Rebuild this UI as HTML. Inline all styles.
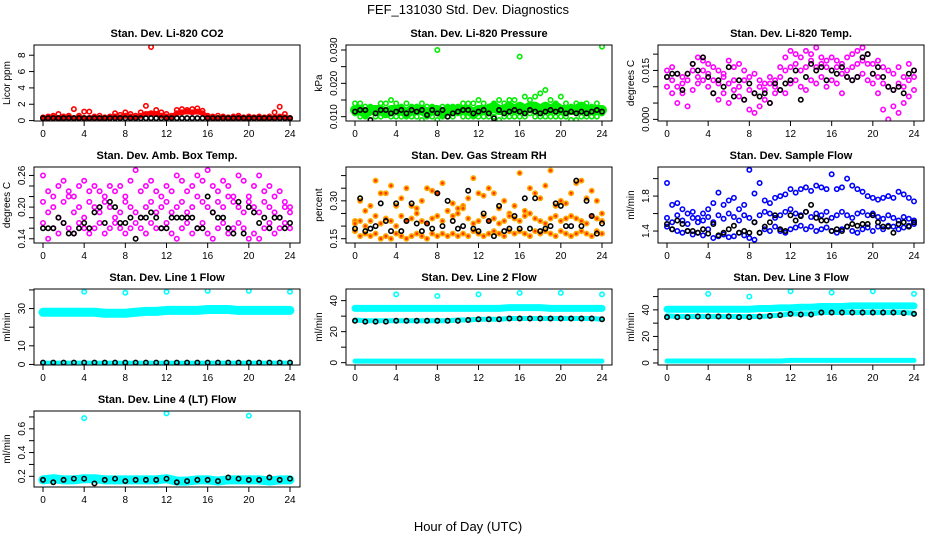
<!DOCTYPE html>
<html><head><meta charset="utf-8"><style>
html,body{margin:0;padding:0;background:#fff;}
svg{display:block;font-family:"Liberation Sans",sans-serif;}
</style></head><body>
<svg id="chart" width="936" height="540" viewBox="0 0 936 540" xmlns="http://www.w3.org/2000/svg">
<rect x="0" y="0" width="936" height="540" fill="#fff"/>
<text x="468" y="14" text-anchor="middle" font-size="13">FEF_131030  Std. Dev. Diagnostics</text>
<text x="468" y="531" text-anchor="middle" font-size="13">Hour of Day (UTC)</text>
</svg>
<script>
// ---- data (half-hourly: 49 values; hourly: 25 values) ----
const xTicks=[0,4,8,12,16,20,24];
const outHours=[4,8,12,16,20,24];
// P1 CO2
const co2Red1=[0.4,0.5,0.6,0.8,0.5,0.6,1.4,0.6,1.1,1.1,0.5,0.6,0.4,0.5,0.9,0.7,1.0,0.8,0.6,1.0,1.8,9.0,1.3,1.0,0.8,0.6,1.3,1.4,1.3,1.4,1.5,1.2,0.6,0.5,0.6,0.5,0.4,0.5,0.6,0.4,0.5,0.4,0.5,0.4,0.5,1.0,1.7,0.8,0.3];
const co2Red2=[0.3,0.3,0.4,0.3,0.3,0.4,0.3,0.4,0.3,0.3,0.4,0.3,0.3,0.4,0.5,0.4,0.6,0.5,0.4,0.6,0.8,0.9,0.8,0.6,0.5,0.4,0.9,1.0,1.1,1.0,1.1,0.9,0.4,0.3,0.3,0.4,0.3,0.3,0.4,0.3,0.3,0.4,0.3,0.3,0.4,0.3,0.5,0.4,0.3];
const co2Black=[0.3,0.3,0.3,0.3,0.3,0.3,0.3,0.3,0.3,0.3,0.3,0.3,0.3,0.3,0.3,0.3,0.3,0.3,0.3,0.3,0.3,0.3,0.3,0.3,0.3,0.3,0.3,0.3,0.3,0.3,0.3,0.3,0.3,0.3,0.3,0.3,0.3,0.3,0.3,0.3,0.3,0.3,0.3,0.3,0.3,0.3,0.3,0.3,0.3];
// P2 pressure
const presG1=[0.014,0.014,0.013,0.013,0.012,0.014,0.014,0.015,0.014,0.013,0.014,0.013,0.013,0.014,0.013,0.013,0.030,0.013,0.013,0.013,0.013,0.014,0.014,0.014,0.015,0.014,0.013,0.014,0.015,0.014,0.015,0.015,0.028,0.016,0.015,0.016,0.017,0.018,0.015,0.014,0.016,0.014,0.013,0.014,0.013,0.014,0.013,0.014,0.031];
const presG2=[0.012,0.012,0.011,0.012,0.012,0.012,0.011,0.012,0.012,0.012,0.011,0.012,0.012,0.012,0.011,0.012,0.012,0.011,0.012,0.012,0.012,0.012,0.012,0.011,0.012,0.012,0.012,0.013,0.012,0.012,0.013,0.012,0.013,0.012,0.013,0.013,0.012,0.013,0.012,0.013,0.012,0.012,0.012,0.012,0.013,0.012,0.012,0.012,0.012];
const presG3=[0.011,0.010,0.010,0.009,0.010,0.010,0.011,0.010,0.010,0.010,0.010,0.010,0.010,0.009,0.010,0.010,0.009,0.010,0.010,0.010,0.011,0.010,0.010,0.010,0.010,0.010,0.010,0.010,0.009,0.010,0.010,0.010,0.010,0.010,0.011,0.010,0.010,0.010,0.010,0.010,0.010,0.010,0.009,0.009,0.010,0.010,0.010,0.010,0.011];
const presBlack=[0.0115,0.012,0.012,0.009,0.011,0.012,0.012,0.011,0.0115,0.012,0.011,0.012,0.0115,0.012,0.0105,0.012,0.011,0.012,0.010,0.011,0.0115,0.012,0.012,0.011,0.0115,0.012,0.011,0.0095,0.012,0.011,0.0115,0.012,0.0115,0.011,0.012,0.0115,0.011,0.0115,0.012,0.0115,0.012,0.011,0.0115,0.011,0.0115,0.011,0.0115,0.012,0.0115];
// P3 Li-820 temp
const tempM1=[.015,.016,.014,.013,.012,.017,.019,.018,.017,.016,.015,.014,.018,.016,.017,.015,.013,.014,.012,.011,.013,.012,.016,.019,.021,.020,.019,.021,.020,.022,.019,.018,.019,.018,.017,.019,.020,.021,.022,.020,.017,.018,.016,.015,.014,.016,.013,.017,.015];
const tempM2=[.010,.008,.005,.008,.004,.009,.011,.012,.010,.008,.006,.008,.005,.009,.007,.006,.003,.002,.004,.006,.005,.008,.009,.008,.011,.012,.010,.009,.012,.011,.013,.010,.012,.011,.008,.013,.012,.013,.014,.012,.011,.008,.003,.000,.004,.002,.005,.007,.009];
const tempM3=[.013,.012,.010,.011,.014,.015,.013,.015,.014,.012,.011,.013,.011,.012,.010,.012,.009,.008,.010,.009,.011,.010,.013,.015,.016,.017,.015,.016,.018,.016,.017,.016,.015,.016,.014,.015,.016,.017,.018,.017,.014,.013,.011,.010,.009,.011,.010,.012,.013];
const tempBlack=[.013,.014,.014,.009,.014,.017,.015,.019,.013,.008,.012,.010,.016,.007,.012,.006,.011,.008,.007,.008,.005,.011,.009,.011,.012,.015,.006,.013,.017,.015,.016,.012,.015,.014,.016,.013,.012,.013,.019,.020,.014,.016,.013,.010,.009,.010,.008,.014,.015];
// P4 amb box temp
const boxM1=[.26,.23,.22,.24,.25,.23,.22,.24,.25,.23,.24,.23,.22,.24,.23,.24,.22,.25,.27,.23,.24,.25,.23,.22,.24,.23,.26,.25,.23,.24,.26,.25,.27,.24,.23,.25,.24,.22,.26,.25,.22,.24,.26,.23,.24,.22,.23,.21,.20];
const boxM2=[.17,.14,.16,.15,.17,.16,.15,.17,.16,.15,.16,.17,.15,.16,.17,.16,.15,.16,.17,.16,.15,.17,.16,.16,.17,.15,.14,.16,.17,.15,.16,.17,.15,.14,.16,.17,.15,.16,.17,.16,.14,.15,.14,.16,.17,.15,.16,.17,.16];
const boxM3=[.21,.19,.20,.18,.21,.22,.19,.20,.18,.21,.20,.19,.21,.20,.18,.19,.21,.20,.19,.18,.20,.21,.19,.20,.21,.19,.20,.21,.19,.20,.22,.21,.20,.19,.21,.20,.22,.21,.20,.19,.21,.20,.19,.21,.20,.19,.18,.20,.19];
const boxBlack=[.16,.16,.16,.18,.17,.15,.15,.16,.17,.16,.19,.20,.17,.21,.20,.17,.17,.18,.14,.18,.18,.19,.18,.16,.16,.18,.18,.18,.18,.18,.16,.16,.22,.19,.18,.18,.16,.15,.21,.15,.20,.19,.17,.18,.16,.18,.18,.16,.17];
// P5 gas stream RH
const rhO1=[.22,.30,.26,.28,.38,.33,.33,.36,.28,.31,.35,.28,.27,.30,.35,.34,.33,.37,.26,.29,.27,.28,.31,.39,.33,.32,.35,.33,.27,.30,.25,.28,.41,.26,.35,.33,.31,.36,.42,.28,.30,.29,.33,.37,.38,.31,.34,.30,.25];
const rhO2=[.18,.16,.17,.16,.17,.15,.16,.15,.17,.16,.15,.16,.17,.16,.15,.17,.16,.17,.16,.17,.16,.17,.16,.18,.17,.16,.17,.18,.17,.16,.18,.17,.18,.17,.16,.18,.17,.18,.17,.16,.18,.17,.16,.17,.18,.17,.16,.18,.17];
const rhO3=[.21,.22,.20,.22,.24,.21,.23,.22,.20,.24,.22,.23,.25,.22,.21,.23,.24,.22,.26,.24,.25,.27,.23,.21,.22,.24,.22,.23,.21,.22,.24,.23,.22,.24,.25,.23,.22,.21,.23,.24,.22,.23,.24,.23,.22,.21,.24,.23,.22];
const rhBlack=[.19,.31,.18,.19,.20,.29,.22,.18,.29,.18,.22,.29,.21,.18,.21,.19,.33,.20,.30,.22,.19,.20,.34,.19,.18,.25,.22,.16,.28,.18,.19,.24,.19,.31,.19,.31,.18,.19,.20,.29,.28,.20,.20,.38,.20,.30,.24,.17,.21];
// P6 sample flow
const sfB1=[1.95,1.70,1.72,1.65,1.60,1.62,1.55,1.60,1.65,1.72,1.84,1.70,1.75,1.78,1.65,1.70,2.10,1.83,1.95,1.75,1.72,1.78,1.80,1.82,1.88,1.84,1.88,1.90,1.86,1.92,1.90,1.88,2.05,1.88,1.90,2.00,1.92,1.88,1.85,1.80,1.78,1.76,1.78,1.80,1.78,1.85,1.82,1.78,1.74];
const sfB2=[1.45,1.42,1.40,1.38,1.40,1.36,1.38,1.35,1.42,1.32,1.34,1.36,1.33,1.34,1.38,1.35,1.32,1.30,1.38,1.42,1.40,1.45,1.40,1.38,1.42,1.44,1.46,1.42,1.45,1.40,1.42,1.44,1.40,1.38,1.42,1.45,1.40,1.38,1.42,1.44,1.40,1.45,1.42,1.46,1.45,1.42,1.44,1.46,1.48];
const sfB3=[1.55,1.50,1.58,1.52,1.48,1.55,1.50,1.52,1.56,1.50,1.58,1.54,1.60,1.56,1.52,1.58,1.55,1.50,1.58,1.62,1.60,1.55,1.58,1.62,1.65,1.60,1.58,1.62,1.56,1.60,1.58,1.62,1.55,1.58,1.62,1.58,1.55,1.60,1.62,1.58,1.60,1.56,1.54,1.58,1.55,1.52,1.56,1.54,1.52];
const sfBlack=[1.48,1.42,1.52,1.48,1.40,1.40,1.38,1.42,1.37,1.48,1.35,1.38,1.42,1.46,1.38,1.40,1.38,1.50,1.38,1.45,1.50,1.58,1.42,1.40,1.58,1.52,1.57,1.62,1.70,1.55,1.52,1.52,1.40,1.42,1.40,1.45,1.48,1.46,1.48,1.48,1.58,1.50,1.45,1.45,1.38,1.48,1.50,1.45,1.50];
// P7 line 1 (hourly)
const l1Band=[28,28,28,28,28,28,27.5,27.5,27.5,28,28.5,28.5,29,29,29,29,29.5,29.5,29.5,29,29,29,29,29,29];
const l1Low=[1,1,1,1,1,1,1,1,1,1,1,1,1,1,1,1,1,1,1,1,1,1,1,1,1];
const l1Black=[1,1,1,1,1,1,1,1,1,1,1,1,1,1,1,1,1,1,1,1,1,1,1,1,1];
const l1Out=[39,38.5,39,39.5,39.5,39];
// P8 line 2
const l2Band=[35,35,35,35,35,35,35,35,35,35,35,35,35,35,35,35.5,35.5,35.5,35.5,35,35,35,35,35,35];
const l2Mid=[27.5,27,27,27,27,27,27,27,27,27,27.5,27.5,28,28,28,28.5,28.5,28.5,28.5,28.5,28.5,28.5,28.5,28.5,28];
const l2Black=[27,26.5,26.5,26.5,27,27,27,27,27,27,27,27.5,28,28,28,28.5,28.5,28.5,28.5,28.5,28.5,28.5,28.5,28.5,28];
const l2Low=[1,1,1,1,1,1,1,1,1,1,1,1,1,1,1,1,1,1,1,1,1,1,1,1,1];
const l2Out=[44,43,44,45,45,44];
// P9 line 3
const l3Band=[40.5,40.5,40.5,40.5,40.5,40.5,40.5,40.5,40.5,41,41,41.5,41.5,42,42,42.5,42.5,42.5,43,43,43,43,43,43,43];
const l3Mid=[35.5,35,35,35,35,35,35,35,35,35,35.5,36,37,37,37,38,38,38,38,38,38,38,38,38,37.5];
const l3Black=[34.5,34.5,34.5,35,35,35,35,34.5,34.5,35,35.5,36,37,36.5,36.5,38,38,38,38,38,38,38,38,37.5,37];
const l3Low=[1.5,1.5,1.5,1.5,1.5,1.5,1.5,1.5,1.5,1.5,1.5,1.5,2,2,2,2,2,2,2,2,2,2,2,2,2];
const l3Out=[52,50,54,53,54,52];
// P10 line 4
const l4Band=[0.17,0.18,0.17,0.17,0.18,0.18,0.17,0.17,0.17,0.17,0.17,0.17,0.18,0.16,0.16,0.17,0.17,0.16,0.17,0.17,0.17,0.17,0.16,0.17,0.17];
const l4Black=[0.17,0.15,0.17,0.18,0.18,0.14,0.17,0.18,0.16,0.17,0.17,0.17,0.18,0.15,0.16,0.17,0.17,0.16,0.19,0.18,0.17,0.17,0.19,0.17,0.18];
const l4Out=[0.69,0.73,0.71];
const l4OutHours=[4,12,20];

const NS='http://www.w3.org/2000/svg';
const svg=document.getElementById('chart');
const W=266,H=76;
function mk(tag,attrs,parent){const e=document.createElementNS(NS,tag);for(const k in attrs)e.setAttribute(k,attrs[k]);(parent||svg).appendChild(e);return e;}

function panel(cfg){
  const x0=34+312*cfg.col, y0=45+122*cfg.row;
  const g=mk('g',{});
  
  
  const sx=h=>x0+9+h*(247/24);
  const sy=v=>y0+H-(v-cfg.ymin)/(cfg.ymax-cfg.ymin)*H;
  const clip='clip'+cfg.col+cfg.row;
  const cp=mk('clipPath',{id:clip},g);mk('rect',{x:x0,y:y0,width:W,height:H},cp);
  const plot=mk('g',{'clip-path':'url(#'+clip+')'},g);
  cfg.series.forEach(s=>{
    const n=s.data.length;
    const hrs=s.hours||s.data.map((_,i)=>i*24/(n-1));
    if(s.type==='band'){
      const pl=mk('polyline',{points:s.data.map((v,i)=>sx(hrs[i])+','+sy(v)).join(' '),fill:'none',stroke:s.color,'stroke-width':s.w,'stroke-linejoin':'round','stroke-linecap':'round'},plot);
      
      
    } else {
      s.data.forEach((v,i)=>{
        const c=mk('circle',{cx:sx(hrs[i]),cy:sy(v),r:2.2,fill:s.fill||'none',stroke:s.color,'stroke-width':1.6},plot);
        
        
      });
    }
  });
  const box=mk('rect',{x:x0,y:y0,width:W,height:H,fill:'none',stroke:'#000','stroke-width':1},g);
  
  
  xTicks.forEach(t=>{
    mk('line',{x1:sx(t),x2:sx(t),y1:y0+H,y2:y0+H+5,stroke:'#000'},g);
    const tl=mk('text',{x:sx(t),y:y0+H+16,'text-anchor':'middle','font-size':10},g);
    tl.textContent=t;
    
    
  });
  cfg.yt.forEach(t=>{mk('line',{x1:x0-5,x2:x0,y1:sy(t),y2:sy(t),stroke:'#000'},g);});
  cfg.yl.forEach(t=>{
    const tx=x0-9,ty=sy(t);
    const tl=mk('text',{x:tx,y:ty,'text-anchor':'middle','font-size':10,transform:'rotate(-90 '+tx+' '+ty+')'},g);
    tl.textContent=t;
    
    
  });
  const ylx=x0-24,yly=y0+H/2;
  const yl=mk('text',{x:ylx,y:yly,'text-anchor':'middle','font-size':10,transform:'rotate(-90 '+ylx+' '+yly+')'},g);
  yl.textContent=cfg.ylab;
  
  
  const ti=mk('text',{x:x0+W/2,y:y0-8,'text-anchor':'middle','font-size':11,'font-weight':'bold'},g);
  ti.textContent=cfg.title;
  
  
}

const RED='#ff0000',GRN='#00ee00',MAG='#ff00ff',ORG='#ffaa00',BLU='#0000ff',CYN='#00ffff',BLK='#000';
panel({name:'panel-co2',col:0,row:0,title:'Stan. Dev. Li-820 CO2',ylab:'Licor ppm',ymin:-0.05,ymax:9.25,yt:[0,2,4,6,8],yl:['0','2','4','6','8'],
 series:[{name:'co2-red-band',type:'band',data:co2Red2,color:RED,w:5},{name:'co2-red-2',data:co2Red2,color:RED},{name:'co2-red-1',data:co2Red1,color:RED},{name:'co2-black',data:co2Black,color:BLK}]});
panel({name:'panel-pressure',col:1,row:0,title:'Stan. Dev. Li-820 Pressure',ylab:'kPa',ymin:0.0087,ymax:0.0315,yt:[0.010,0.015,0.020,0.025,0.030],yl:['0.010','0.020','0.030'],
 series:[{name:'pres-green-band',type:'band',data:presG2,color:GRN,w:10},{name:'pres-green-1',data:presG1,color:GRN},{name:'pres-green-2',data:presG2,color:GRN},{name:'pres-green-3',data:presG3,color:GRN},{name:'pres-black',data:presBlack,color:BLK}]});
panel({name:'panel-li820-temp',col:2,row:0,title:'Stan. Dev. Li-820 Temp.',ylab:'degrees C',ymin:-0.0005,ymax:0.0228,yt:[0,0.005,0.010,0.015,0.020],yl:['0.000','0.015'],
 series:[{name:'temp-mag-1',data:tempM1,color:MAG},{name:'temp-mag-2',data:tempM2,color:MAG},{name:'temp-mag-3',data:tempM3,color:MAG},{name:'temp-black',data:tempBlack,color:BLK}]});
panel({name:'panel-box-temp',col:0,row:1,title:'Stan. Dev. Amb. Box Temp.',ylab:'degrees C',ymin:0.132,ymax:0.276,yt:[0.14,0.16,0.18,0.20,0.22,0.24,0.26],yl:['0.14','0.20','0.26'],
 series:[{name:'box-mag-1',data:boxM1,color:MAG},{name:'box-mag-2',data:boxM2,color:MAG},{name:'box-mag-3',data:boxM3,color:MAG},{name:'box-black',data:boxBlack,color:BLK}]});
panel({name:'panel-rh',col:1,row:1,title:'Stan. Dev. Gas Stream RH',ylab:'percent',ymin:0.133,ymax:0.434,yt:[0.15,0.20,0.25,0.30,0.35,0.40],yl:['0.15','0.30'],
 series:[{name:'rh-orange-1',data:rhO1,color:ORG,fill:'#ff3300'},{name:'rh-orange-2',data:rhO2,color:ORG,fill:'#ff3300'},{name:'rh-orange-3',data:rhO3,color:ORG,fill:'#ff3300'},{name:'rh-black',data:rhBlack,color:BLK}]});
panel({name:'panel-sample-flow',col:2,row:1,title:'Stan. Dev. Sample Flow',ylab:'ml/min',ymin:1.263,ymax:2.133,yt:[1.4,1.6,1.8,2.0],yl:['1.4','1.8'],
 series:[{name:'sf-blue-1',data:sfB1,color:BLU},{name:'sf-blue-2',data:sfB2,color:BLU},{name:'sf-blue-3',data:sfB3,color:BLU},{name:'sf-black',data:sfBlack,color:BLK}]});
panel({name:'panel-line1-flow',col:0,row:2,title:'Stan. Dev. Line 1 Flow',ylab:'ml/min',ymin:-0.3,ymax:40.5,yt:[0,10,20,30,40],yl:['0','10','30'],
 series:[{name:'l1-band',type:'band',data:l1Band,color:CYN,w:9},{name:'l1-low',type:'band',data:l1Low,color:CYN,w:4},{name:'l1-black',data:l1Black,color:BLK},{name:'l1-outlier',data:l1Out,hours:outHours,color:CYN}]});
panel({name:'panel-line2-flow',col:1,row:2,title:'Stan. Dev. Line 2 Flow',ylab:'ml/min',ymin:-1.5,ymax:47.5,yt:[0,10,20,30,40],yl:['0','20','40'],
 series:[{name:'l2-band',type:'band',data:l2Band,color:CYN,w:7},{name:'l2-mid',type:'band',data:l2Mid,color:CYN,w:5},{name:'l2-low',type:'band',data:l2Low,color:CYN,w:5},{name:'l2-black',data:l2Black,color:BLK},{name:'l2-outlier',data:l2Out,hours:outHours,color:CYN}]});
panel({name:'panel-line3-flow',col:2,row:2,title:'Stan. Dev. Line 3 Flow',ylab:'ml/min',ymin:-1.5,ymax:55.7,yt:[0,10,20,30,40,50],yl:['0','20','40'],
 series:[{name:'l3-band',type:'band',data:l3Band,color:CYN,w:7},{name:'l3-mid',type:'band',data:l3Mid,color:CYN,w:5},{name:'l3-low',type:'band',data:l3Low,color:CYN,w:5},{name:'l3-black',data:l3Black,color:BLK},{name:'l3-outlier',data:l3Out,hours:outHours,color:CYN}]});
panel({name:'panel-line4-flow',col:0,row:3,title:'Stan. Dev. Line 4 (LT) Flow',ylab:'ml/min',ymin:0.11,ymax:0.75,yt:[0.2,0.3,0.4,0.5,0.6,0.7],yl:['0.2','0.4','0.6'],
 series:[{name:'l4-band',type:'band',data:l4Band,color:CYN,w:9},{name:'l4-black',data:l4Black,color:BLK},{name:'l4-outlier',data:l4Out,hours:l4OutHours,color:CYN}]});
</script>
</body></html>
